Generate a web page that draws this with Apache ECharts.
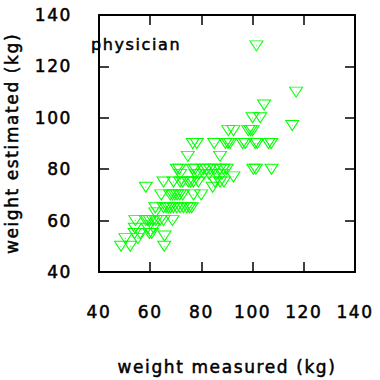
<!DOCTYPE html>
<html>
<head>
<meta charset="utf-8">
<script src="https://cdn.jsdelivr.net/npm/echarts@6/dist/echarts.min.js"></script>
<style>
html,body{margin:0;padding:0;background:#fff;}
#chart{width:380px;height:380px;}
#chart text{letter-spacing:1.6px;}
</style>
</head>
<body>
<div id="chart"></div>
<script>
var xTicks = [40, 60, 80, 100, 120, 140];
var yTicks = [40, 60, 80, 100, 120, 140];
var panelLabel = 'physician';
var xTitle = 'weight measured (kg)';
var yTitle = 'weight estimated (kg)';

var measured = [
  101.5, 117, 104.5, 100, 103, 115.5,
  90.5, 92.5, 98.3, 99.2, 100,
  76.6, 78.2, 85, 89.4, 90.4, 91.2, 96.1, 97.1, 101, 101.8, 106.2, 107.3,
  74.7, 87.3,
  70.4, 71.3, 76.6, 77.5, 80.8, 82.1, 83.4, 85.3, 87.3, 88.6, 89.9, 100.3, 101.3, 107.4,
  71.7, 77.7, 79, 81, 83, 86, 88,
  92.5,
  65.2, 69.1, 71.7, 72.7, 74.9, 75.8, 76.9, 78.8, 85.3, 87.3, 88.8,
  84.4, 58.3,
  64.3, 67.8, 68.7, 69.6, 70.5, 71.5, 72.7, 76.9, 79.9,
  62, 65.2, 66.2, 67.1, 68, 69.1, 70.4, 71.7, 73, 74.3, 75.3, 76.2,
  62,
  54.2, 58.3, 59, 59.9, 61.2, 62.2, 63.8, 65.2, 68.7,
  59, 61.3, 54,
  53.9, 56.1, 59.7, 60.6, 65.6,
  50.3, 55.2,
  48.6, 52.2, 65.5
];
var estimated = [
  128, 110, 105, 100, 100, 97,
  95, 95, 95, 95, 95,
  90, 90, 90, 90, 90, 90, 90, 90, 90, 90, 90, 90,
  85, 85,
  80, 80, 80, 80, 80, 80, 80, 80, 80, 80, 80, 80, 80, 80,
  78, 78, 78, 78, 78, 78, 78,
  77,
  75, 75, 75, 75, 75, 75, 75, 75, 75, 75, 75,
  73, 73,
  70, 70, 70, 70, 70, 70, 70, 70, 70,
  65, 65, 65, 65, 65, 65, 65, 65, 65, 65, 65, 65,
  63,
  60, 60, 60, 60, 60, 60, 60, 60, 60,
  57, 57, 57,
  55, 55, 55, 55, 54,
  53, 53,
  50, 50, 50
];

var pts = measured.map(function (m, i) { return [m, estimated[i]]; });

var FONT = 'DejaVu Sans';
var txt = { fontFamily: FONT, fontSize: 17, color: '#000', textBorderColor: '#000', textBorderWidth: 0.5 };
function ts(extra) { var o = {}; for (var k in txt) o[k] = txt[k]; for (var j in extra) o[j] = extra[j]; return o; }
var axisLine = { show: true, lineStyle: { color: '#000', width: 2 } };
var tick = { show: true, inside: true, length: 10, lineStyle: { color: '#000', width: 1.5 } };

var chart = echarts.init(document.getElementById('chart'), null, { renderer: 'svg' });
chart.setOption({
  animation: false,
  backgroundColor: '#fff',
  title: {
    text: panelLabel, left: 91, top: 36, padding: 0,
    textStyle: ts({ fontSize: 16, fontWeight: 'normal' })
  },
  grid: { left: 99, right: 25, top: 15, bottom: 108, containLabel: false, outerBoundsMode: 'none' },
  xAxis: [{
    type: 'value', min: 40, max: 140, interval: 20, position: 'bottom',
    name: xTitle, nameLocation: 'middle', nameGap: 86,
    nameTextStyle: ts({}),
    axisLine: axisLine, axisTick: tick, splitLine: { show: false },
    axisLabel: ts({ margin: 31,
      formatter: function (v) { return xTicks.indexOf(v) >= 0 ? String(v) : ''; } })
  }, {
    type: 'value', min: 40, max: 140, interval: 20, position: 'top',
    axisLine: axisLine, axisTick: tick, splitLine: { show: false }, axisLabel: { show: false }
  }],
  yAxis: [{
    type: 'value', min: 40, max: 140, interval: 20, position: 'left',
    name: yTitle, nameLocation: 'middle', nameGap: 79, nameRotate: 90,
    nameTextStyle: ts({}),
    axisLine: axisLine, axisTick: tick, splitLine: { show: false },
    axisLabel: ts({ margin: 27,
      formatter: function (v) { return yTicks.indexOf(v) >= 0 ? String(v) : ''; } })
  }, {
    type: 'value', min: 40, max: 140, interval: 20, position: 'right',
    axisLine: axisLine, axisTick: tick, splitLine: { show: false }, axisLabel: { show: false }
  }],
  series: [{
    type: 'scatter', data: pts,
    symbol: 'triangle', symbolRotate: 180, symbolSize: [13, 10],
    itemStyle: { color: 'rgba(0,0,0,0)', borderColor: '#00ff00', borderWidth: 1, opacity: 1 },
    emphasis: { disabled: true }, silent: true
  }, {
    type: 'scatter', data: pts,
    symbol: 'rect', symbolSize: 1,
    itemStyle: { color: '#00ff00' },
    emphasis: { disabled: true }, silent: true
  }]
});
</script>
</body>
</html>
